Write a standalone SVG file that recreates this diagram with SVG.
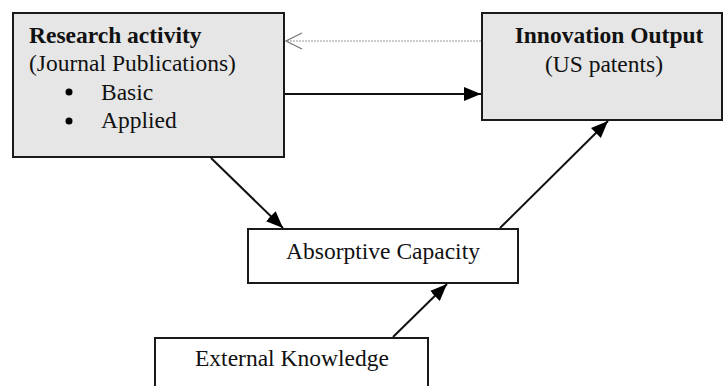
<svg xmlns="http://www.w3.org/2000/svg" width="725" height="386" viewBox="0 0 725 386">
<defs>
<marker id="fill" viewBox="0 0 17 14" refX="17" refY="7" markerWidth="17" markerHeight="14" markerUnits="userSpaceOnUse" orient="auto">
<path d="M0,0 L17,7 L0,14 Z" fill="#000"/>
</marker>
<marker id="open" viewBox="0 0 18 18" refX="17" refY="9" markerWidth="18" markerHeight="18" markerUnits="userSpaceOnUse" orient="auto">
<path d="M1,1 L17,9 L1,17" fill="none" stroke="#777" stroke-width="1.2"/>
</marker>
<style>
.box{stroke:#1a1a1a;stroke-width:2}
.grey{fill:#e6e6e6}
.white{fill:#fff}
text{font-family:"Liberation Serif","Times New Roman",serif;font-size:23.5px;fill:#111}
.b{font-weight:bold}
.c{text-anchor:middle}
.conn{stroke:#111;stroke-width:2;fill:none}
</style>
</defs>
<g id="research">
<rect class="box grey" x="13" y="13" width="271" height="144"/>
<text class="b" x="29" y="43">Research activity</text>
<text x="29" y="71">(Journal Publications)</text>
<circle cx="69" cy="92" r="3.5" fill="#000"/>
<text x="101" y="100">Basic</text>
<circle cx="69" cy="121" r="3.5" fill="#000"/>
<text x="101" y="128">Applied</text>
</g>
<g id="innovation">
<rect class="box grey" x="482" y="13" width="240" height="107"/>
<text class="b c" x="609" y="43">Innovation Output</text>
<text class="c" x="604" y="72">(US patents)</text>
</g>
<g id="absorptive">
<rect class="box white" x="248" y="229" width="270" height="54"/>
<text class="c" x="383" y="259">Absorptive Capacity</text>
</g>
<g id="external">
<rect class="box white" x="155" y="338" width="273" height="60"/>
<text x="195" y="366">External Knowledge</text>
</g>
<g id="connectors">
<line class="conn" x1="285" y1="94" x2="481" y2="94" marker-end="url(#fill)"/>
<line x1="481" y1="41" x2="286" y2="41" stroke="#9a9a9a" stroke-width="1" stroke-dasharray="2,1" marker-end="url(#open)"/>
<line class="conn" x1="211" y1="158" x2="283" y2="228" marker-end="url(#fill)"/>
<line class="conn" x1="500" y1="228" x2="608" y2="121" marker-end="url(#fill)"/>
<line class="conn" x1="393" y1="337" x2="447" y2="284" marker-end="url(#fill)"/>
</g>
</svg>
